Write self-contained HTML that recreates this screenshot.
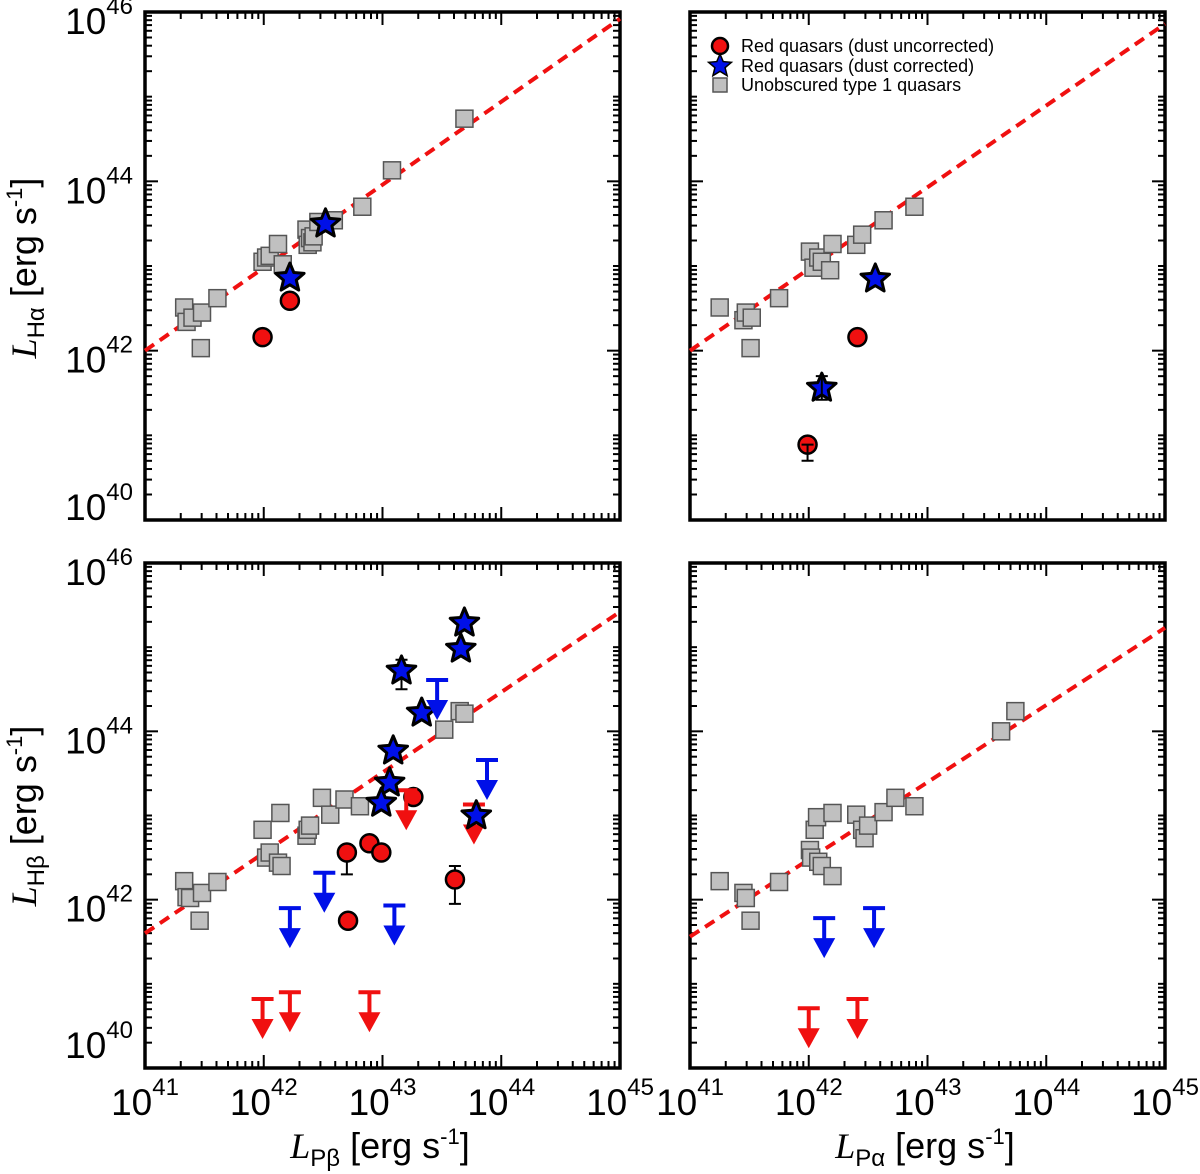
<!DOCTYPE html>
<html><head><meta charset="utf-8"><style>
html,body{margin:0;padding:0;background:#fff;}
svg{display:block;font-family:"Liberation Sans",sans-serif;}
</style></head><body>
<svg id="fig" width="1200" height="1174" viewBox="0 0 1200 1174" xmlns="http://www.w3.org/2000/svg"></svg>
<script>
// ---- data (log10 luminosities) ----
// Panel A: Ha vs Pb
const aSqX=[41.33,41.35,41.40,41.47,41.48,41.61,41.99,42.02,42.05,42.12,42.16,42.36,42.37,42.39,42.41,42.42,42.46,42.59,42.83,43.08,43.69];
const aSqY=[42.51,42.34,42.39,42.03,42.45,42.62,43.05,43.10,43.12,43.26,43.02,43.43,43.25,43.33,43.28,43.35,43.52,43.54,43.70,44.13,44.74];
const aStX=[42.22,42.52];const aStY=[42.87,43.51];
const aCiX=[41.99,42.22];const aCiY=[42.16,42.59];
// Panel B: Ha vs Pa
const bSqX=[41.25,41.45,41.47,41.51,41.52,41.75,42.01,42.04,42.08,42.11,42.18,42.20,42.40,42.45,42.63,42.89];
const bSqY=[42.51,42.36,42.45,42.03,42.39,42.62,43.17,42.98,43.10,43.05,42.95,43.26,43.25,43.37,43.54,43.70];
const bStX=[42.11,42.56];const bStY=[41.57,42.86];
const bCiX=[41.99,42.41];const bCiY=[40.89,42.16];
// Panel C: Hb vs Pb
const cSqX=[41.33,41.35,41.38,41.48,41.46,41.61,41.99,42.02,42.05,42.14,42.12,42.15,42.36,42.37,42.39,42.49,42.56,42.68,42.81,43.52,43.65,43.69];
const cSqY=[42.22,42.03,42.02,42.08,41.75,42.21,42.83,42.50,42.56,43.03,42.44,42.40,42.76,42.83,42.88,43.21,43.01,43.19,43.11,44.02,44.24,44.21];
const cStX=[43.69,43.66,43.16,43.33,43.09,43.06,42.99,43.79];
const cStY=[45.30,44.99,44.73,44.23,43.78,43.40,43.16,43.01];
const cCiX=[42.70,42.89,42.99,43.61,42.71,43.26];
const cCiY=[42.56,42.67,42.56,42.24,41.75,43.22];
const cBlX=[42.22,42.51,43.10,43.46,43.88];const cBlY=[41.90,42.32,41.93,44.61,43.66];
const cRlX=[41.99,42.22,42.89,43.20,43.77];const cRlY=[40.82,40.90,40.90,43.30,43.13];
// Panel D: Hb vs Pa
const dSqX=[41.25,41.45,41.47,41.51,41.75,42.01,42.02,42.08,42.11,42.20,42.05,42.07,42.20,42.40,42.45,42.47,42.50,42.63,42.73,42.89,43.62,43.74];
const dSqY=[42.22,42.08,42.02,41.75,42.21,42.59,42.50,42.45,42.40,42.28,42.83,42.98,43.03,43.01,42.83,42.73,42.88,43.04,43.21,43.11,44.00,44.24];
const dBlX=[42.13,42.55];const dBlY=[41.78,41.90];
const dRlX=[42.00,42.41];const dRlY=[40.71,40.82];
// fit lines: [x0,y0,x1,y1]
const fitA=[41,42.0,45,45.92];const fitB=[41,42.0,45,45.86];
const fitC=[41,41.6,45,45.42];const fitD=[41,41.56,45,45.23];
const xTicks=[41,42,43,44,45];const yTicks=[40,42,44,46];

const NS="http://www.w3.org/2000/svg";
const svg=document.getElementById('fig');
function el(t,a,p){const e=document.createElementNS(NS,t);for(const k in a)e.setAttribute(k,a[k]);(p||svg).appendChild(e);return e;}

function panel(name,x0,x1,y0,y1,showX,showY){
  const g=el('g',{});
  
  
  const sx=v=>x0+(v-41)/4*(x1-x0);
  const sy=v=>y1-(v-40)/6*(y1-y0);
  for(let d=41;d<45;d++)for(let m=1;m<10;m++){
    const X=sx(d+Math.log10(m));const L=m===1?13:7;
    el('line',{x1:X,x2:X,y1:y1,y2:y1-L,stroke:'#000','stroke-width':2},g);
    el('line',{x1:X,x2:X,y1:y0,y2:y0+L,stroke:'#000','stroke-width':2},g);
  }
  for(let d=40;d<46;d++)for(let m=1;m<10;m++){
    const Y=sy(d+Math.log10(m));const L=(m===1&&d%2===0)?13:7;
    el('line',{x1:x0,x2:x0+L,y1:Y,y2:Y,stroke:'#000','stroke-width':2},g);
    el('line',{x1:x1,x2:x1-L,y1:Y,y2:Y,stroke:'#000','stroke-width':2},g);
  }
  el('rect',{x:x0,y:y0,width:x1-x0,height:y1-y0,fill:'none',stroke:'#000','stroke-width':3.5},g);
  if(showX)xTicks.forEach(v=>{
    const t=el('text',{x:sx(v),y:1115,'font-size':37,'text-anchor':'middle'},g);
    
    
    t.innerHTML='10<tspan font-size="24" dy="-20">'+v+'</tspan>';
  });
  if(showY)yTicks.forEach((v,i)=>{
    const by=v===40?(y0<100?sy(v)+0:sy(v)-10):sy(v)+22;
    const t=el('text',{x:133,y:by,'font-size':37,'text-anchor':'end'},g);
    
    
    t.innerHTML='10<tspan font-size="24" dy="-20">'+v+'</tspan>';
  });
  return {g,sx,sy};
}
function fit(p,f){
  const l=el('line',{x1:p.sx(f[0]),y1:p.sy(f[1]),x2:p.sx(f[2]),y2:p.sy(f[3]),stroke:'#f01010','stroke-width':4,'stroke-dasharray':'11,7'},p.g);
  
  
}
function squares(p,X,Y){X.forEach((v,i)=>{
  const r=el('rect',{x:p.sx(v)-8.5,y:p.sy(Y[i])-8.5,width:17,height:17,fill:'#c0c0c0',stroke:'#555','stroke-width':1.5},p.g);
  
  
});}
function starPath(cx,cy,R){let d='';for(let k=0;k<10;k++){const r=k%2?R*0.45:R;const a=-Math.PI/2+k*Math.PI/5;d+=(k?'L':'M')+(cx+r*Math.cos(a)).toFixed(1)+','+(cy+r*Math.sin(a)).toFixed(1);}return d+'Z';}
function stars(p,X,Y){X.forEach((v,i)=>{
  const s=el('path',{d:starPath(p.sx(v),p.sy(Y[i])+1,15),fill:'#0010e8',stroke:'#000','stroke-width':3,'stroke-linejoin':'round'},p.g);
  
  
});}
function circles(p,X,Y){X.forEach((v,i)=>{
  const c=el('circle',{cx:p.sx(v),cy:p.sy(Y[i]),r:9,fill:'#f01010',stroke:'#000','stroke-width':2.5},p.g);
  
  
});}
function limits(p,X,Y,col){X.forEach((v,i)=>{
  const x=p.sx(v),y=p.sy(Y[i]);
  const a=el('path',{d:`M${x-11},${y}H${x+11}M${x},${y}V${y+22}`,stroke:col,'stroke-width':4,fill:'none'},p.g);
  
  
  const h=el('path',{d:`M${x-11},${y+20}L${x+11},${y+20}L${x},${y+40}Z`,fill:col},p.g);
  
  
});}
function errbar(p,x,ylo,yhi){
  const X=p.sx(x),a=p.sy(ylo),b=p.sy(yhi);
  const e=el('path',{d:`M${X},${a}V${b}M${X-6},${a}H${X+6}M${X-6},${b}H${X+6}`,stroke:'#000','stroke-width':2,fill:'none'},p.g);
  
  
}

const A=panel('panel-ha-vs-pb',145,620,12,520,false,true);
const B=panel('panel-ha-vs-pa',690,1165,12,520,false,false);
const C=panel('panel-hb-vs-pb',145,620,563,1068,true,true);
const D=panel('panel-hb-vs-pa',690,1165,563,1068,true,false);

fit(A,fitA);squares(A,aSqX,aSqY);circles(A,aCiX,aCiY);stars(A,aStX,aStY);
fit(B,fitB);squares(B,bSqX,bSqY);circles(B,bCiX,bCiY);stars(B,bStX,bStY);errbar(B,42.11,41.42,41.7);errbar(B,41.99,40.7,40.89);
fit(C,fitC);squares(C,cSqX,cSqY);errbar(C,42.70,42.3,42.65);errbar(C,43.61,41.95,42.4);errbar(C,43.16,44.5,44.85);
circles(C,cCiX,cCiY);limits(C,cRlX,cRlY,'#f01010');stars(C,cStX,cStY);limits(C,cBlX,cBlY,'#0010e8');
fit(D,fitD);squares(D,dSqX,dSqY);limits(D,dBlX,dBlY,'#0010e8');limits(D,dRlX,dRlY,'#f01010');

const lg=el('g',{});


el('circle',{cx:720,cy:46,r:8,fill:'#f01010',stroke:'#000','stroke-width':2.5},lg);
el('path',{d:starPath(720,66,12),fill:'#0010e8',stroke:'#000','stroke-width':1.5},lg);
el('rect',{x:713,y:78,width:14,height:14,fill:'#c0c0c0',stroke:'#555','stroke-width':1.5},lg);
[['Red quasars (dust uncorrected)',52],['Red quasars (dust corrected)',72],['Unobscured type 1 quasars',91]].forEach(d=>{
  const t=el('text',{x:741,y:d[1],'font-size':18},lg);t.textContent=d[0];
  
  
});

function ytitle(cy,sub,name){
  const t=el('text',{transform:`translate(36,${cy}) rotate(-90)`,'text-anchor':'middle','font-size':36});
  
  
  t.innerHTML='<tspan font-family="Liberation Serif,serif" font-style="italic">L</tspan><tspan font-size="24" dy="8">'+sub+'</tspan><tspan dy="-8"> [erg s</tspan><tspan font-size="22" dy="-14">-1</tspan><tspan dy="14">]</tspan>';
}
function xtitle(cx,sub,name){
  const t=el('text',{x:cx,y:1158,'text-anchor':'middle','font-size':36});
  
  
  t.innerHTML='<tspan font-family="Liberation Serif,serif" font-style="italic">L</tspan><tspan font-size="24" dy="8">'+sub+'</tspan><tspan dy="-8"> [erg s</tspan><tspan font-size="22" dy="-14">-1</tspan><tspan dy="14">]</tspan>';
}
ytitle(268,'Hα','y-axis-title-ha');ytitle(816,'Hβ','y-axis-title-hb');
xtitle(380,'Pβ','x-axis-title-pb');xtitle(925,'Pα','x-axis-title-pa');
</script>
</body></html>
